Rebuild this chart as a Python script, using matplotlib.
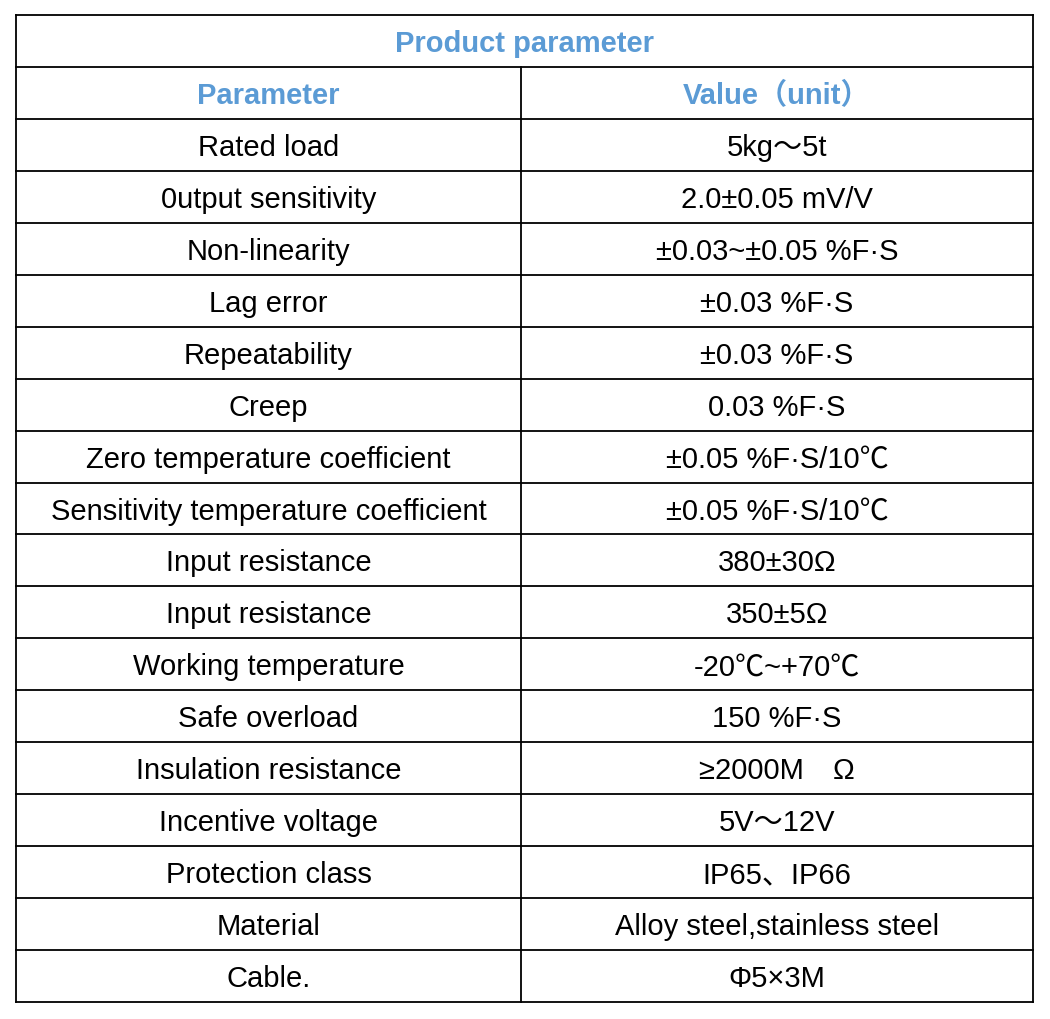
import matplotlib
matplotlib.use("Agg")
from matplotlib import pyplot as plt

TITLE = "Product parameter"
HEADERS = ["Parameter", "Value（unit）"]
PARAMS = ["Rated load", "0utput sensitivity", "Non-linearity", "Lag error", "Repeatability",
          "Creep", "Zero temperature coefficient", "Sensitivity temperature coefficient",
          "Input resistance", "Input resistance", "Working temperature", "Safe overload",
          "Insulation resistance", "Incentive voltage", "Protection class", "Material", "Cable."]
VALUES = ["5kg～5t", "2.0±0.05 mV/V", "±0.03~±0.05 %F·S", "±0.03 %F·S", "±0.03 %F·S",
          "0.03 %F·S", "±0.05 %F·S/10℃", "±0.05 %F·S/10℃", "380±30Ω", "350±5Ω",
          "-20℃~+70℃", "150 %F·S", "≥2000M　Ω", "5V～12V", "IP65、IP66",
          "Alloy steel,stainless steel", "Φ5×3M"]

BLUE = "#5b9bd5"
FONT = ["Liberation Sans", "Noto Sans CJK SC", "DejaVu Sans"]

left, right, top, bottom, mid = 16, 1033, 16, 1003, 521
n_rows = len(PARAMS) + 2
row_h = (bottom - top) / n_rows

fig = plt.figure(figsize=(10.5, 10.2), dpi=100)
ax = fig.add_axes((0, 0, 1, 1))
ax.set_xlim(0, 1050)
ax.set_ylim(1020, 0)
ax.axis("off")

lw = 1.3
for i in range(n_rows + 1):
    y = top + i * row_h
    ax.plot([left, right], [y, y], color="black", lw=lw)
ax.plot([left, left], [top, bottom], color="black", lw=lw)
ax.plot([right, right], [top, bottom], color="black", lw=lw)
ax.plot([mid, mid], [top + row_h, bottom], color="black", lw=lw)

fs = 21
dy = 2
ax.text((left + right) / 2, top + row_h / 2 + dy, TITLE, ha="center", va="center",
        fontsize=fs, color=BLUE, fontweight="bold", family=FONT)
for j, h in enumerate(HEADERS):
    cx = (left + mid) / 2 if j == 0 else (mid + right) / 2
    ax.text(cx, top + 1.5 * row_h + dy, h, ha="center", va="center",
            fontsize=fs, color=BLUE, fontweight="bold", family=FONT)
for i, (p, v) in enumerate(zip(PARAMS, VALUES)):
    cy = top + (i + 2.5) * row_h + dy
    ax.text((left + mid) / 2, cy, p, ha="center", va="center", fontsize=fs, family=FONT)
    ax.text((mid + right) / 2, cy, v, ha="center", va="center", fontsize=fs, family=FONT)

fig.savefig("out.png", dpi=100, facecolor="white")
